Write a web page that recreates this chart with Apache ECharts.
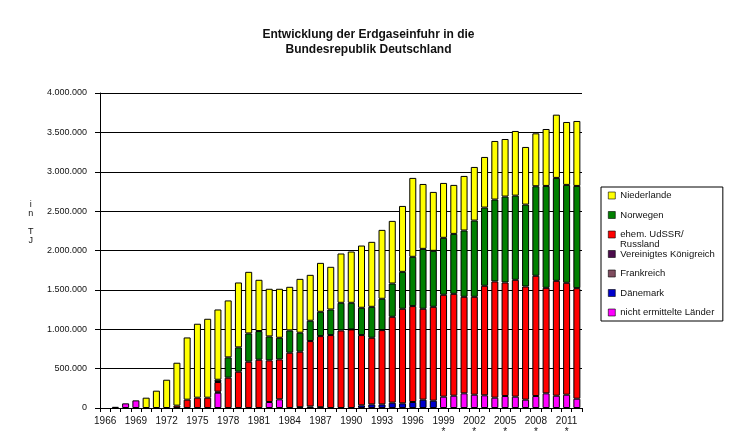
<!DOCTYPE html>
<html>
<head>
<meta charset="utf-8">
<script src="https://cdn.jsdelivr.net/npm/echarts@6/dist/echarts.min.js"></script>
<style>html,body{margin:0;padding:0;background:#fff}#c{width:737px;height:443px}</style>
</head>
<body>
<div id="c"></div>
<script>
var years = [];
for (var y = 1966; y <= 2012; y++) years.push(String(y));

var seriesNames = ['nicht ermittelte Länder','Dänemark','Frankreich','Vereinigtes Königreich','ehem. UdSSR/ Russland','Norwegen','Niederlande'];
var legendOrder = ['Niederlande','Norwegen','ehem. UdSSR/ Russland','Vereinigtes Königreich','Frankreich','Dänemark','nicht ermittelte Länder'];
var colors = ['#FF00FF','#0000CC','#7F4C5F','#4B0B4B','#FF0000','#008000','#FFFF00'];

// values in TJ, 1966..2012
var nichtErmittelt = [0,15000,59000,97000,0,0,0,0,0,0,0,194000,0,0,0,0,76000,110000,0,0,0,0,0,0,0,0,0,0,0,0,0,0,0,144000,156000,186000,169000,161000,131000,152000,144000,106000,152000,186000,156000,169000,118000];
var daenemark = [0,0,0,0,0,0,0,0,0,0,0,0,0,0,0,0,0,0,0,0,0,0,0,0,0,34000,46000,46000,68000,59000,76000,106000,93000,0,0,0,0,0,0,0,0,0,0,0,0,0,0];
var frankreich = [0,0,0,0,0,0,0,0,0,0,0,13000,0,0,0,0,0,0,0,10000,20000,10000,0,0,0,0,0,0,0,0,0,0,0,0,0,0,0,0,0,0,0,0,0,0,0,0,0];
var vereinigtesKoenigreich = [0,0,0,0,0,0,0,0,0,0,0,0,0,0,0,0,0,0,0,0,0,0,0,0,0,0,0,0,0,0,0,0,0,0,0,0,0,0,0,0,0,0,0,0,0,0,0];
var udssr = [0,0,0,0,0,0,0,30000,106000,131000,131000,123000,385000,461000,588000,613000,529000,507000,702000,705000,830000,903000,926000,985000,998000,892000,846000,943000,1090000,1201000,1218000,1154000,1192000,1294000,1294000,1226000,1243000,1391000,1476000,1442000,1484000,1437000,1527000,1340000,1459000,1421000,1404000];
var norwegen = [0,0,0,0,0,0,0,0,0,0,0,29000,258000,309000,359000,364000,304000,275000,283000,241000,258000,309000,325000,351000,338000,347000,393000,398000,423000,469000,626000,761000,711000,723000,761000,842000,968000,993000,1040000,1091000,1069000,1040000,1137000,1294000,1307000,1243000,1298000];
var niederlande = [0,0,0,0,131000,220000,359000,545000,790000,939000,1002000,892000,723000,824000,782000,651000,605000,622000,554000,684000,583000,621000,542000,626000,651000,790000,825000,875000,795000,837000,1002000,824000,748000,697000,622000,693000,681000,643000,744000,731000,821000,732000,672000,723000,803000,799000,825000];

var yTicks = [0,500000,1000000,1500000,2000000,2500000,3000000,3500000,4000000];
var starYears = ['1999','2002','2005','2008','2011'];

var allData = [nichtErmittelt, daenemark, frankreich, vereinigtesKoenigreich, udssr, norwegen, niederlande];

function fmt(v){ return String(v).replace(/\B(?=(\d{3})+(?!\d))/g, '.'); }

var series = seriesNames.map(function(n, i){
  return {
    name: n, type: 'bar', stack: 'total', barWidth: 7,
    itemStyle: {color: colors[i], borderColor: '#000', borderWidth: 1},
    data: allData[i].map(function(v){ return v === 0 ? '-' : v; })
  };
});

var FONT = '"Liberation Sans", Arial, sans-serif';
var chart = echarts.init(document.getElementById('c'), null, {renderer: 'canvas'});
chart.setOption({
  animation: false,
  backgroundColor: '#fff',
  color: colors,
  title: {
    text: 'Entwicklung der Erdgaseinfuhr in die\nBundesrepublik Deutschland',
    left: 'center', top: 22,
    textStyle: {fontFamily: FONT, fontWeight: 'bold', fontSize: 12, lineHeight: 15, color: '#111'}
  },
  grid: {left: 100, top: 93, width: 482, height: 315, containLabel: false},
  legend: {
    orient: 'vertical', left: 601, top: 187,
    data: legendOrder,
    itemWidth: 7, itemHeight: 7,
    itemGap: 8.5,
    padding: [3, 8, 3, 7],
    borderColor: '#000', borderWidth: 1,
    itemStyle: {borderColor: '#000', borderWidth: 0.6},
    textStyle: {fontFamily: FONT, fontSize: 9.5, lineHeight: 11, color: '#111'},
    formatter: function(name){ return name === 'ehem. UdSSR/ Russland' ? 'ehem. UdSSR/' : name; },
    icon: 'rect'
  },
  graphic: [{
    type: 'text', left: 28, top: 200,
    style: {text: 'i\nn\n\nT\nJ', fontFamily: FONT, fontSize: 9, lineHeight: 9, fill: '#111', textAlign: 'center'}
  }, {
    type: 'text', left: 620, top: 239,
    style: {text: 'Russland', fontFamily: FONT, fontSize: 9.5, fill: '#111'}
  }],
  xAxis: {
    type: 'category', data: years, boundaryGap: true,
    axisLine: {lineStyle: {color: '#000', width: 1}},
    axisTick: {show: true, interval: 0, length: 4, lineStyle: {color: '#000'}},
    axisLabel: {
      interval: 2, margin: 8, fontSize: 10, lineHeight: 11, color: '#111',
      fontFamily: FONT,
      formatter: function(v){ return starYears.indexOf(v) >= 0 ? v + '\n*' : v; }
    }
  },
  yAxis: {
    type: 'value', min: 0, max: 4000000, interval: 500000,
    axisLine: {show: true, lineStyle: {color: '#000', width: 1}},
    axisTick: {show: true, length: 5, lineStyle: {color: '#000'}},
    splitLine: {show: true, lineStyle: {color: '#000', width: 1}},
    axisLabel: {
      margin: 13, fontSize: 9, color: '#111',
      fontFamily: FONT,
      formatter: function(v){ return yTicks.indexOf(v) >= 0 ? fmt(v) : ''; }
    }
  },
  series: series
});
</script>
</body>
</html>
